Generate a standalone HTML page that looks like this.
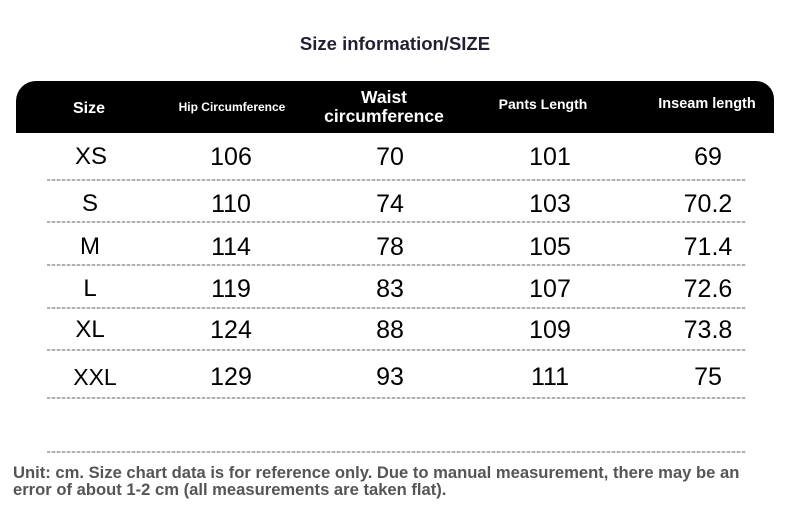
<!DOCTYPE html>
<html>
<head>
<meta charset="utf-8">
<style>
html,body{margin:0;padding:0;background:#fff;}
body{width:790px;height:517px;position:relative;overflow:hidden;font-family:"Liberation Sans",Arial,sans-serif;}
.t{position:absolute;text-align:center;white-space:nowrap;}
.title{left:195px;width:400px;top:32px;line-height:24px;font-size:18.5px;font-weight:bold;color:#231f33;}
.hdr{position:absolute;left:16px;top:81px;width:758px;height:52px;background:#000;border-radius:20px 18px 0 0;}
.h{color:#fff;font-weight:bold;}
.d{font-size:25px;color:#000;line-height:30px;}
.dl{position:absolute;left:47px;width:699px;height:2px;background:repeating-linear-gradient(90deg,#b0b0b0 0 3px,#e8e8e8 3px 5px);}
.foot{position:absolute;left:13px;font-size:16.6px;font-weight:bold;color:#555;white-space:nowrap;line-height:18px;}
</style>
</head>
<body>
<div class="t title">Size information/SIZE</div>

<div class="hdr"></div>
<div class="t h" style="left:39px;width:100px;top:98px;line-height:22px;font-size:16px;">Size</div>
<div class="t h" style="left:152px;width:160px;top:97px;line-height:20px;font-size:12px;">Hip Circumference</div>
<div class="t h" style="left:304px;width:160px;top:88px;line-height:19px;font-size:17.5px;">Waist<br>circumference</div>
<div class="t h" style="left:463px;width:160px;top:94px;line-height:20px;font-size:14px;">Pants Length</div>
<div class="t h" style="left:627px;width:160px;top:94px;line-height:20px;font-size:14.5px;">Inseam length</div>

<!-- rows -->
<div class="t d" style="left:41px;width:100px;top:142px;font-size:24px;">XS</div>
<div class="t d" style="left:181px;width:100px;top:142px;">106</div>
<div class="t d" style="left:340px;width:100px;top:142px;">70</div>
<div class="t d" style="left:500px;width:100px;top:142px;">101</div>
<div class="t d" style="left:658px;width:100px;top:142px;">69</div>
<div class="dl" style="top:179px;"></div>

<div class="t d" style="left:40px;width:100px;top:189px;font-size:24px;">S</div>
<div class="t d" style="left:181px;width:100px;top:189px;">110</div>
<div class="t d" style="left:340px;width:100px;top:189px;">74</div>
<div class="t d" style="left:500px;width:100px;top:189px;">103</div>
<div class="t d" style="left:658px;width:100px;top:189px;">70.2</div>
<div class="dl" style="top:221px;"></div>

<div class="t d" style="left:40px;width:100px;top:232px;font-size:24px;">M</div>
<div class="t d" style="left:181px;width:100px;top:232px;">114</div>
<div class="t d" style="left:340px;width:100px;top:232px;">78</div>
<div class="t d" style="left:500px;width:100px;top:232px;">105</div>
<div class="t d" style="left:658px;width:100px;top:232px;">71.4</div>
<div class="dl" style="top:264px;"></div>

<div class="t d" style="left:40px;width:100px;top:274px;font-size:24px;">L</div>
<div class="t d" style="left:181px;width:100px;top:274px;">119</div>
<div class="t d" style="left:340px;width:100px;top:274px;">83</div>
<div class="t d" style="left:500px;width:100px;top:274px;">107</div>
<div class="t d" style="left:658px;width:100px;top:274px;">72.6</div>
<div class="dl" style="top:307px;"></div>

<div class="t d" style="left:40px;width:100px;top:315px;font-size:24px;">XL</div>
<div class="t d" style="left:181px;width:100px;top:315px;">124</div>
<div class="t d" style="left:340px;width:100px;top:315px;">88</div>
<div class="t d" style="left:500px;width:100px;top:315px;">109</div>
<div class="t d" style="left:658px;width:100px;top:315px;">73.8</div>
<div class="dl" style="top:349px;"></div>

<div class="t d" style="left:45px;width:100px;top:362px;font-size:23px;">XXL</div>
<div class="t d" style="left:181px;width:100px;top:362px;">129</div>
<div class="t d" style="left:340px;width:100px;top:362px;">93</div>
<div class="t d" style="left:500px;width:100px;top:362px;">111</div>
<div class="t d" style="left:658px;width:100px;top:362px;">75</div>
<div class="dl" style="top:397px;"></div>

<div class="dl" style="top:451px;"></div>

<div class="foot" style="top:464px;">Unit: cm. Size chart data is for reference only. Due to manual measurement, there may be an</div>
<div class="foot" style="top:481px;">error of about 1-2 cm (all measurements are taken flat).</div>
</body>
</html>
